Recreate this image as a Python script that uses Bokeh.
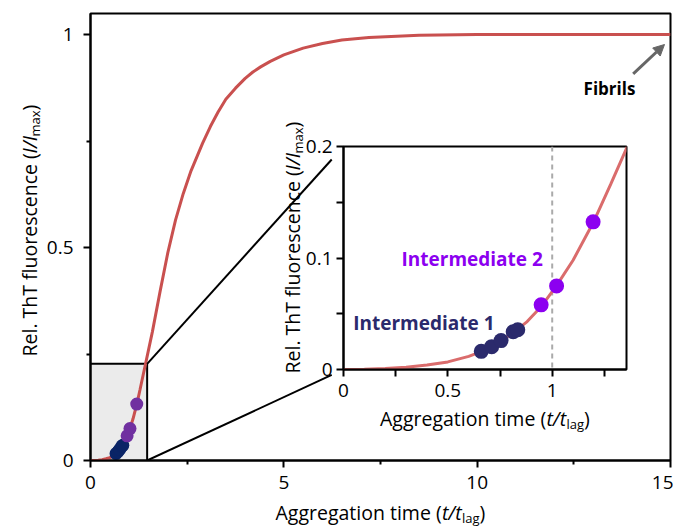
import math
from bokeh.plotting import figure
from bokeh.models import Range1d, FixedTicker, Label, Arrow, NormalHead, Span
from bokeh.layouts import column
from bokeh.embed import file_html
from bokeh.resources import INLINE

# ---------------- data ----------------
curve_t = [0, 0.1, 0.2, 0.3, 0.4, 0.5, 0.6, 0.66, 0.71, 0.76, 0.82, 0.88, 0.95, 1.02,
           1.1, 1.2, 1.28, 1.36, 1.45, 1.6, 1.8, 2.0, 2.2, 2.4, 2.6, 2.9, 3.1, 3.3, 3.5,
           3.75, 4.0, 4.2, 4.4, 4.65, 5.0, 5.5, 6.0, 6.5, 7.2, 8.5, 10, 12.5, 15]
curve_v = [0, 0.0002, 0.0008, 0.002, 0.004, 0.0068, 0.0118, 0.016, 0.0205, 0.026, 0.034,
           0.043, 0.057, 0.075, 0.098, 0.133, 0.166, 0.2, 0.238, 0.302, 0.397, 0.488,
           0.565, 0.627, 0.68, 0.745, 0.784, 0.818, 0.848, 0.874, 0.897, 0.912, 0.924,
           0.937, 0.952, 0.968, 0.979, 0.987, 0.993, 0.998, 1.0, 1.0, 1.0]

int1_t = [0.66, 0.71, 0.755, 0.813, 0.835]
int1_v = [0.0163, 0.0205, 0.0259, 0.0339, 0.0357]
int2_t = [0.947, 1.021, 1.196]
int2_v = [0.058, 0.075, 0.1324]

main_x_ticks = [0, 5, 10, 15]
main_x_minor = [2.5, 7.5, 12.5]
main_y_ticks = [0, 0.5, 1]
main_y_minor = [0.25, 0.75]
main_x_labels = {0: "0", 5: "5", 10: "10", 15: "15"}
main_y_labels = {0: "0", 0.5: "0.5", 1: "1"}

inset_x_ticks = [0, 0.5, 1]
inset_x_minor = [0.25, 0.75, 1.25]
inset_y_ticks = [0, 0.1, 0.2]
inset_y_minor = [0.05, 0.15]
inset_x_labels = {0: "0", 0.5: "0.5", 1: "1"}
inset_y_labels = {0: "0", 0.1: "0.1", 0.2: "0.2"}

zoom_x_max = 1.465
zoom_y_max = 0.227
lag_time = 1.0

FONT = "Open Sans"
CURVE_MAIN = "#C9504F"
CURVE_INSET = "#DA6C6C"
NAVY_MAIN = "#0A2466"
PURPLE_MAIN = "#7030A0"
NAVY_INSET = "#2B2A6C"
PURPLE_INSET = "#8C00F0"

# ---------------- geometry (page pixels) ----------------
PAGE_W, PAGE_H = 673, 518
OV_H = 526
M_L, M_R, M_T, M_B = 90, 670, 13, 460
M_YTOP = (M_B - M_T) / 426.0
I_L, I_R, I_T, I_B = 343, 626, 146, 369
I_XMAX, I_YMAX = 1.356, 0.2
I_BL, I_BR, I_BT, I_BB = 60, 5, 14, 57


def mx(px):
    return (px - M_L) / (M_R - M_L) * 15.0


def my(py):
    return (M_B - py) / (M_B - M_T) * M_YTOP


def ix(px):
    return (px - I_L) / (I_R - I_L) * I_XMAX


def iy(py):
    return (I_B - py) / (I_B - I_T) * I_YMAX


def style_axes(fig, xt, xm, yt, ym, xl, yl, xstand, ystand, minor_len):
    fig.xaxis.ticker = FixedTicker(ticks=xt, minor_ticks=xm)
    fig.yaxis.ticker = FixedTicker(ticks=yt, minor_ticks=ym)
    fig.xaxis.major_label_overrides = xl
    fig.yaxis.major_label_overrides = yl
    for ax in (fig.xaxis[0], fig.yaxis[0]):
        ax.axis_line_width = 2
        ax.axis_line_color = "black"
        ax.major_tick_line_width = 2
        ax.minor_tick_line_width = 2
        ax.major_tick_line_color = "black"
        ax.minor_tick_line_color = "black"
        ax.major_tick_in = 0
        ax.major_tick_out = 7
        ax.minor_tick_in = 0
        ax.minor_tick_out = minor_len
        ax.major_label_text_font = FONT
        ax.major_label_text_font_size = "19px"
        ax.major_label_text_color = "black"
    fig.xaxis[0].major_label_standoff = xstand
    fig.yaxis[0].major_label_standoff = ystand
    fig.xgrid.visible = False
    fig.ygrid.visible = False
    fig.outline_line_color = "black"
    fig.outline_line_width = 2


def add_pieces(fig, x, y, pieces, vertical=False):
    # pieces: (text, size_px, style, along, perp) ; offsets in screen pixels
    for text, size, style, along, perp in pieces:
        if vertical:
            lab = Label(x=x, y=y, text=text, angle=math.pi / 2, x_offset=-perp, y_offset=along,
                        text_font=FONT, text_font_size=f"{size}px", text_font_style=style,
                        text_align="left", text_baseline="alphabetic", text_color="black")
        else:
            lab = Label(x=x, y=y, text=text, x_offset=along, y_offset=perp,
                        text_font=FONT, text_font_size=f"{size}px", text_font_style=style,
                        text_align="left", text_baseline="alphabetic", text_color="black")
        fig.add_layout(lab)


x_label_pieces = [("Aggregation time (", 19.5, "normal", -105, 0),
                  ("t/t", 19.5, "italic", 61.4, 0),
                  ("lag", 13, "normal", 81.4, -5),
                  (")", 19.5, "normal", 99.1, 0)]
y_label_pieces = [("Rel. ThT fluorescence (", 19.5, "normal", -126, 0),
                  ("I/I", 19.5, "italic", 77.1, 0),
                  ("max", 13, "normal", 93.9, -5),
                  (")", 19.5, "normal", 119.9, 0)]

# ---------------- main figure ----------------
p = figure(frame_width=M_R - M_L, frame_height=M_B - M_T,
           min_border_left=M_L, min_border_right=PAGE_W - M_R, min_border_top=M_T,
           min_border_bottom=PAGE_H - M_B,
           x_range=Range1d(0, 15), y_range=Range1d(0, M_YTOP),
           output_backend="svg", toolbar_location=None, title=None, frame_align=False)
p.background_fill_color = "white"
p.border_fill_color = "white"
style_axes(p, main_x_ticks, main_x_minor, main_y_ticks, main_y_minor,
           main_x_labels, main_y_labels, 8, 10, 4)

p.quad(left=[0], right=[zoom_x_max], bottom=[0], top=[zoom_y_max],
       fill_color="#EBEBEB", line_color="black", line_width=2)
p.line(curve_t, curve_v, line_color=CURVE_MAIN, line_width=3)
p.scatter(int1_t, int1_v, size=13, fill_color=NAVY_MAIN, line_color=None)
p.scatter(int2_t, int2_v, size=13, fill_color=PURPLE_MAIN, line_color=None)

# connectors from the zoom box towards the inset frame corners
frac = 0.94
top_end = (zoom_x_max + frac * (mx(I_L) - zoom_x_max), zoom_y_max + frac * (my(I_T) - zoom_y_max))
bot_end = (zoom_x_max + frac * (mx(I_L) - zoom_x_max), frac * my(I_B))
p.segment(x0=[zoom_x_max, zoom_x_max], y0=[zoom_y_max, 0],
          x1=[top_end[0], bot_end[0]], y1=[top_end[1], bot_end[1]],
          line_color="black", line_width=2)

p.add_layout(Arrow(end=NormalHead(size=11, fill_color="#666666", line_color="#666666"),
                   x_start=mx(632.7), y_start=my(73.3), x_end=mx(664), y_end=my(44),
                   line_color="#666666", line_width=3))
p.add_layout(Label(x=mx(609), y=my(88), text="Fibrils", text_font=FONT, text_font_size="17px",
                   text_font_style="bold", text_align="center", text_baseline="middle",
                   text_color="black"))

# ---------------- inset figure (overlapping via negative top margin) ----------------
INSET_H = I_BT + (I_B - I_T) + I_BB
inset_top = I_T - I_BT
ins = figure(frame_width=I_R - I_L, frame_height=I_B - I_T,
             min_border_left=I_BL, min_border_right=I_BR, min_border_top=I_BT, min_border_bottom=I_BB,
             x_range=Range1d(0, I_XMAX), y_range=Range1d(0, I_YMAX),
             output_backend="svg", toolbar_location=None, title=None, frame_align=False,
             margin=(inset_top - PAGE_H, 0, 0, I_L - I_BL))
ins.background_fill_color = "white"
ins.border_fill_alpha = 0
ins.border_fill_color = None
style_axes(ins, inset_x_ticks, inset_x_minor, inset_y_ticks, inset_y_minor,
           inset_x_labels, inset_y_labels, 7, 4, 7)

ins.add_layout(Span(location=lag_time, dimension="height", line_color="#AAAAAA",
                    line_width=2, line_dash="5 4", level="underlay"))
ins.line(curve_t, curve_v, line_color=CURVE_INSET, line_width=3)
ins.scatter(int1_t, int1_v, size=15, fill_color=NAVY_INSET, line_color=None)
ins.scatter(int2_t, int2_v, size=15, fill_color=PURPLE_INSET, line_color=None)

ins.add_layout(Label(x=ix(401), y=iy(258), text="Intermediate 2", text_font=FONT,
                     text_font_size="19px", text_font_style="bold", text_align="left",
                     text_baseline="middle", text_color=PURPLE_INSET))
ins.add_layout(Label(x=ix(352.7), y=iy(322.7), text="Intermediate 1", text_font=FONT,
                     text_font_size="19px", text_font_style="bold", text_align="left",
                     text_baseline="middle", text_color=NAVY_INSET))

# ---------------- transparent overlay for the axis titles (page pixel coords) ----------------
ov = figure(frame_width=PAGE_W, frame_height=OV_H,
            min_border_left=0, min_border_right=0, min_border_top=0, min_border_bottom=0,
            x_range=Range1d(0, PAGE_W), y_range=Range1d(OV_H, 0),
            x_axis_type=None, y_axis_type=None,
            output_backend="svg", toolbar_location=None, title=None, frame_align=False,
            margin=(-(inset_top + INSET_H), 0, 0, 0))
ov.background_fill_alpha = 0
ov.border_fill_alpha = 0
ov.background_fill_color = None
ov.border_fill_color = None
ov.outline_line_color = None
ov.xgrid.visible = False
ov.ygrid.visible = False

add_pieces(ov, (M_L + M_R) / 2, 512, x_label_pieces)
add_pieces(ov, 29, 230, y_label_pieces, vertical=True)
add_pieces(ov, (I_L + I_R) / 2, 418, x_label_pieces)
add_pieces(ov, 292, 247, y_label_pieces, vertical=True)

layout = column(p, ins, ov)
open("out.html", "w").write(file_html(layout, INLINE))
